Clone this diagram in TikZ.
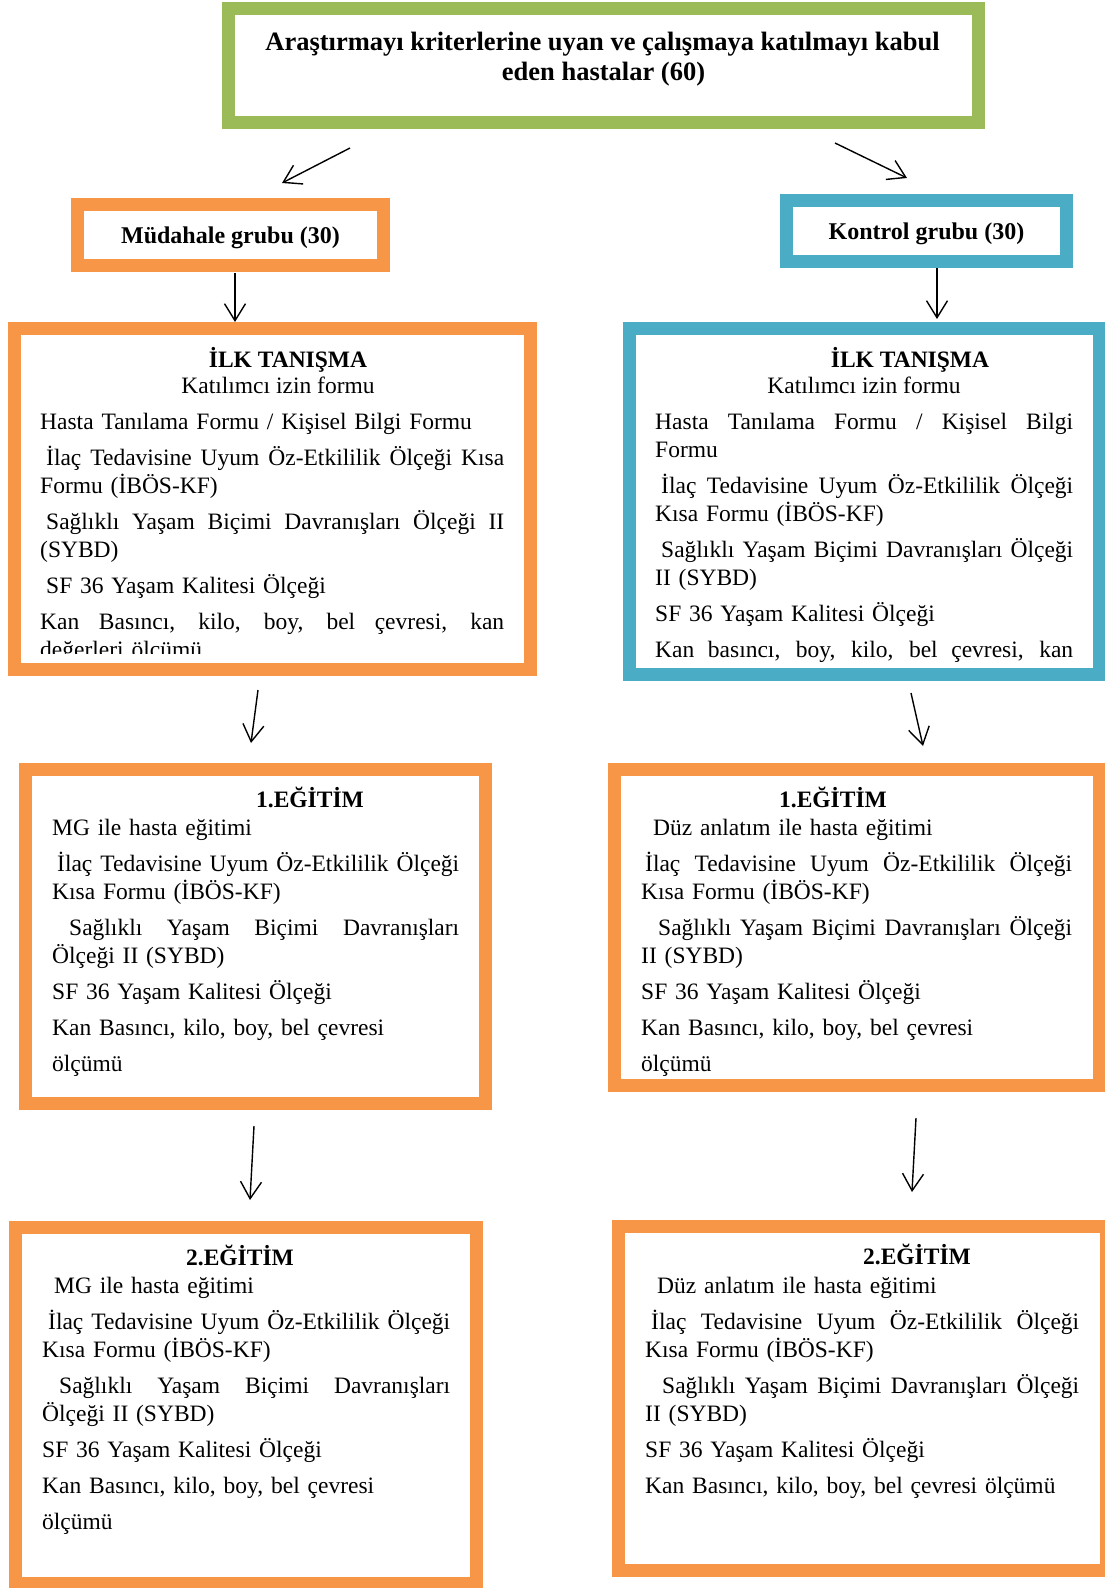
\documentclass[tikz,border=0pt]{standalone}
\usepackage{fontspec}
\setmainfont{Liberation Serif}
\usetikzlibrary{arrows.meta}
\setlength{\parindent}{0pt}
\definecolor{grnline}{HTML}{9BBB59}
\definecolor{orgline}{HTML}{F79646}
\definecolor{bluline}{HTML}{4BACC6}
\newlength{\jlw}
\newcommand{\bodysize}{\fontsize{23.5}{28}\selectfont}
\newcommand{\headsize}{\fontsize{24}{30}\selectfont}
\newcommand{\titlesize}{\fontsize{26.5}{32}\selectfont}
\newcommand{\jl}[1]{{\spaceskip=0.25em plus 1fil minus 0.05em\relax\makebox[\jlw][s]{#1}}}
\newcommand{\topstrut}{\rule{0pt}{22pt}}
\tikzset{
  framebox/.style={draw=#1, line width=13pt, fill=white, inner sep=0pt},
  headtext/.style={anchor=base, inner sep=0pt, font=\bodysize\bfseries},
  subtext/.style={anchor=base, inner sep=0pt, font=\bodysize},
  bodytext/.style={anchor=north west, inner sep=0pt, text width=#1, align=left,
    font=\bodysize, execute at begin node={\setlength{\jlw}{#1}}},
  arr/.style={-{Straight Barb[length=17pt,width=21pt]}, line width=1.4pt}
}
\begin{document}
\begin{tikzpicture}[x=1pt,y=-1pt]
  \useasboundingbox (0,0) rectangle (1105,1588);

  \node[framebox=grnline, minimum width=750pt, minimum height=113.5pt] (top) at (603.5,65.25) {};
  \node[framebox=orgline, minimum width=306pt, minimum height=61pt, text depth=0pt,
    font=\headsize\bfseries] (mdh) at (230.5,235) {Müdahale grubu (30)};
  \node[framebox=bluline, minimum width=280pt, minimum height=60.5pt, text depth=0pt,
    font=\headsize\bfseries] (knt) at (926.5,230.75) {Kontrol grubu (30)};
  \node[framebox=orgline, minimum width=516pt, minimum height=340.5pt] (ilkL) at (272.5,498.75) {};
  \node[framebox=bluline, minimum width=470pt, minimum height=346pt] (ilkR) at (864.5,501.5) {};
  \node[framebox=orgline, minimum width=460pt, minimum height=334.5pt] (egtL) at (255.5,936.25) {};
  \node[framebox=orgline, minimum width=485pt, minimum height=316.5pt] (egtR) at (856.5,927.25) {};
  \node[framebox=orgline, minimum width=461pt, minimum height=356pt] (egtiiL) at (246,1405.5) {};
  \node[framebox=orgline, minimum width=488pt, minimum height=344pt] (egtiiR) at (862.5,1398.5) {};

  \node[headtext, font=\titlesize\bfseries] (topa) at (602.5,50)
    {Araştırmayı kriterlerine uyan ve çalışmaya katılmayı kabul};
  \node[headtext, font=\titlesize\bfseries] (topb) at (603.5,80) {eden hastalar (60)};

  \node[headtext] (ilkLh) at (288,367) {İLK TANIŞMA};
  \node[subtext] (ilkLs) at (278,393) {Katılımcı izin formu};
  \begin{scope}
    \clip (21,335) rectangle (524,653);
    \node[bodytext=464pt] (ilkLtxt) at (40,407) {\topstrut Hasta Tanılama Formu / Kişisel Bilgi Formu\\[8pt]
      \jl{\hspace*{6pt}İlaç Tedavisine Uyum Öz-Etkililik Ölçeği Kısa}\\
      Formu (İBÖS-KF)\\[8pt]
      \jl{\hspace*{6pt}Sağlıklı Yaşam Biçimi Davranışları Ölçeği II}\\
      (SYBD)\\[8pt]
      \hspace*{6pt}SF 36 Yaşam Kalitesi Ölçeği\\[8pt]
      \jl{Kan Basıncı, kilo, boy, bel çevresi, kan}\\
      değerleri ölçümü};
  \end{scope}

  \node[headtext] (ilkRh) at (910,367) {İLK TANIŞMA};
  \node[subtext] (ilkRs) at (864,393) {Katılımcı izin formu};
  \node[bodytext=418pt] (ilkRtxt) at (655,407) {\topstrut\jl{Hasta Tanılama Formu / Kişisel Bilgi}\\
    Formu\\[8pt]
    \jl{\hspace*{6pt}İlaç Tedavisine Uyum Öz-Etkililik Ölçeği}\\
    Kısa Formu (İBÖS-KF)\\[8pt]
    \jl{\hspace*{6pt}Sağlıklı Yaşam Biçimi Davranışları Ölçeği}\\
    II (SYBD)\\[8pt]
    SF 36 Yaşam Kalitesi Ölçeği\\[8pt]
    \jl{Kan basıncı, boy, kilo, bel çevresi, kan}};

  \node[headtext] (egtLh) at (310,807) {1.EĞİTİM};
  \node[bodytext=407pt] (egtLtxt) at (52,813) {\topstrut MG ile hasta eğitimi\\[8pt]
    \jl{\hspace*{5pt}İlaç Tedavisine Uyum Öz-Etkililik Ölçeği}\\
    Kısa Formu (İBÖS-KF)\\[8pt]
    \jl{\hspace*{17pt}Sağlıklı Yaşam Biçimi Davranışları}\\
    Ölçeği II (SYBD)\\[8pt]
    SF 36 Yaşam Kalitesi Ölçeği\\[8pt]
    Kan Basıncı, kilo, boy, bel çevresi\\[8pt]
    ölçümü};

  \node[headtext] (egtRh) at (833,807) {1.EĞİTİM};
  \node[bodytext=431pt] (egtRtxt) at (641,813) {\topstrut\hspace*{12pt}Düz anlatım ile hasta eğitimi\\[8pt]
    \jl{\hspace*{4pt}İlaç Tedavisine Uyum Öz-Etkililik Ölçeği}\\
    Kısa Formu (İBÖS-KF)\\[8pt]
    \jl{\hspace*{17pt}Sağlıklı Yaşam Biçimi Davranışları Ölçeği}\\
    II (SYBD)\\[8pt]
    SF 36 Yaşam Kalitesi Ölçeği\\[8pt]
    Kan Basıncı, kilo, boy, bel çevresi\\[8pt]
    ölçümü};

  \node[headtext] (egtiiLh) at (240,1265) {2.EĞİTİM};
  \node[bodytext=408pt] (egtiiLtxt) at (42,1271) {\topstrut\hspace*{12pt}MG ile hasta eğitimi\\[8pt]
    \jl{\hspace*{6pt}İlaç Tedavisine Uyum Öz-Etkililik Ölçeği}\\
    Kısa Formu (İBÖS-KF)\\[8pt]
    \jl{\hspace*{17pt}Sağlıklı Yaşam Biçimi Davranışları}\\
    Ölçeği II (SYBD)\\[8pt]
    SF 36 Yaşam Kalitesi Ölçeği\\[8pt]
    Kan Basıncı, kilo, boy, bel çevresi\\[8pt]
    ölçümü};

  \node[headtext] (egtiiRh) at (917,1264) {2.EĞİTİM};
  \node[bodytext=434pt] (egtiiRtxt) at (645,1271) {\topstrut\hspace*{12pt}Düz anlatım ile hasta eğitimi\\[8pt]
    \jl{\hspace*{6pt}İlaç Tedavisine Uyum Öz-Etkililik Ölçeği}\\
    Kısa Formu (İBÖS-KF)\\[8pt]
    \jl{\hspace*{17pt}Sağlıklı Yaşam Biçimi Davranışları Ölçeği}\\
    II (SYBD)\\[8pt]
    SF 36 Yaşam Kalitesi Ölçeği\\[8pt]
    Kan Basıncı, kilo, boy, bel çevresi ölçümü};

  \coordinate (toMdhS) at (350,148);
  \coordinate (toMdhE) at (282,183);
  \coordinate (toKntS) at (835,143);
  \coordinate (toKntE) at (907,178);
  \coordinate (mdhS) at (235,273);
  \coordinate (mdhE) at (235,322);
  \coordinate (kntS) at (937,268);
  \coordinate (kntE) at (937,319);
  \coordinate (ilkLS) at (258,690);
  \coordinate (ilkLE) at (251,743);
  \coordinate (ilkRS) at (911,693);
  \coordinate (ilkRE) at (923,746);
  \coordinate (egtLS) at (254,1126);
  \coordinate (egtLE) at (250,1200);
  \coordinate (egtRS) at (916,1118);
  \coordinate (egtRE) at (912,1192);
  \foreach \a/\b in {toMdhS/toMdhE, toKntS/toKntE, mdhS/mdhE, kntS/kntE,
    ilkLS/ilkLE, ilkRS/ilkRE, egtLS/egtLE, egtRS/egtRE}{
    \draw[arr] (\a) -- (\b);
  }
\end{tikzpicture}
\end{document}
